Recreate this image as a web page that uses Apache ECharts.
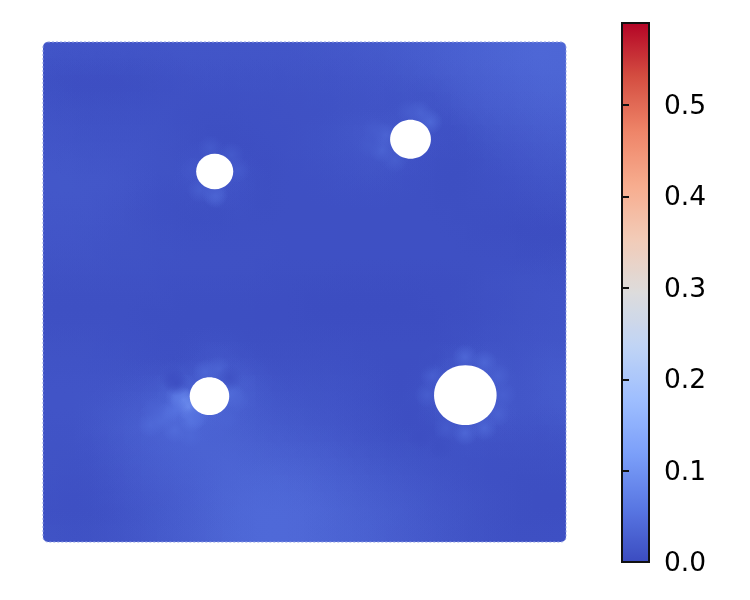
<!DOCTYPE html>
<html>
<head>
<meta charset="utf-8">
<style>html,body{margin:0;padding:0;background:#fff}#main{width:750px;height:600px}</style>
<script src="https://cdn.jsdelivr.net/npm/echarts@6/dist/echarts.min.js"></script>
</head>
<body>
<div id="main"></div>
<script>
// field, in thousandths, top row first
var fieldRows = [
  [14,13,13,13,13,13,13,13,14,14,14,14,14,14,14,14,15,16,17,18,19,20,22,24,26,28,30,32,34,36,37,36],
  [8,8,8,8,8,8,9,10,11,11,11,11,11,11,11,11,12,13,14,15,16,18,20,22,25,27,29,31,33,35,36,36],
  [6,4,3,3,3,4,5,6,7,8,8,8,8,8,8,9,9,10,11,12,13,14,16,18,21,24,26,28,30,32,34,34],
  [8,6,5,5,5,6,6,7,7,6,6,6,7,7,7,7,8,8,9,10,11,10,12,10,14,20,23,25,27,29,31,31],
  [10,9,8,8,8,8,8,8,6,5,5,5,6,6,7,7,7,8,9,10,9,11,14,16,8,15,19,22,24,26,27,28],
  [12,11,10,10,10,10,9,8,7,5,4,4,5,6,6,7,8,10,12,15,17,15,10,10,6,6,12,16,19,21,23,24],
  [13,12,12,11,11,11,10,9,7,6,5,3,3,5,6,7,8,10,12,14,16,16,10,10,6,5,8,12,15,17,19,20],
  [15,15,14,14,13,12,10,9,8,12,10,10,6,3,5,6,7,8,10,11,12,12,8,6,4,4,5,8,11,13,15,16],
  [15,16,15,15,14,13,10,8,8,13,14,13,8,4,5,6,6,7,8,9,9,8,6,5,4,4,5,6,8,10,12,12],
  [15,15,15,14,13,11,8,6,5,7,9,8,6,4,5,5,5,6,6,6,6,5,5,5,4,4,5,5,6,7,8,9],
  [14,14,14,13,11,9,7,6,5,4,4,5,5,5,5,5,5,5,5,5,5,5,5,5,5,4,4,4,4,4,5,5],
  [13,13,12,11,10,9,8,7,6,6,6,6,6,6,6,6,6,6,5,5,5,5,5,5,5,5,4,3,3,2,2,2],
  [11,11,11,10,9,9,8,8,7,7,7,7,7,7,6,6,6,6,6,6,6,6,6,6,6,5,5,5,5,4,4,4],
  [9,9,9,9,8,8,8,7,7,7,7,7,7,6,6,5,5,5,5,5,5,5,5,5,5,5,5,6,6,6,6,7],
  [7,7,7,7,7,7,7,6,6,6,6,6,5,5,4,4,4,4,3,3,3,3,3,3,3,4,5,7,8,9,10,10],
  [5,5,5,5,5,5,5,5,4,4,4,4,4,3,3,3,2,2,2,2,2,2,2,3,3,4,5,6,7,9,10,11],
  [5,5,5,5,5,5,4,4,4,4,4,4,4,3,3,3,2,2,2,2,2,2,2,2,3,3,5,6,8,9,10,11],
  [7,7,7,7,6,6,5,4,4,4,4,4,4,4,4,4,4,3,3,3,3,3,3,3,3,5,6,8,9,10,11,12],
  [9,9,9,8,8,7,6,6,5,7,10,8,5,5,5,5,5,5,5,4,4,4,4,4,4,6,8,10,10,12,13,14],
  [10,10,10,10,9,8,7,5,4,10,15,15,10,7,7,7,7,6,6,5,4,3,3,4,12,14,14,16,12,13,16,18],
  [11,11,11,11,11,12,13,16,22,20,20,20,24,14,10,10,9,9,8,7,5,3,3,6,12,14,14,22,14,14,17,20],
  [11,11,12,13,15,17,20,26,38,32,30,30,26,18,14,13,12,11,10,8,6,4,4,8,12,14,14,22,14,14,17,20],
  [11,11,12,15,18,21,25,30,38,38,34,30,24,20,17,16,14,13,11,9,7,5,3,5,16,16,16,20,15,14,15,18],
  [10,10,11,15,19,23,27,30,32,32,30,29,26,23,20,19,17,15,13,11,8,5,4,3,5,12,14,11,11,10,10,12],
  [9,9,10,13,17,21,25,28,30,31,31,31,29,27,25,24,22,20,17,14,12,10,9,7,7,8,8,7,7,7,7,8],
  [9,8,8,11,15,19,23,26,28,30,32,33,32,31,30,29,27,25,22,19,16,14,12,11,9,8,7,6,5,5,5,6],
  [8,7,7,9,13,17,21,24,26,29,32,34,35,35,35,33,31,28,26,23,20,18,15,13,11,9,7,6,5,4,4,4],
  [7,6,6,8,11,15,18,21,24,28,32,35,37,38,38,37,35,32,29,26,24,21,18,16,13,11,9,7,5,4,3,3],
  [6,5,5,7,10,13,16,20,23,27,31,35,38,40,40,39,37,34,31,29,26,23,20,17,14,12,9,7,5,4,3,3],
  [9,8,8,9,11,14,17,20,24,27,31,35,38,40,40,39,37,34,32,30,27,24,21,18,15,12,10,8,6,5,5,6]
];
// local spots next to the holes (domain 0-100, thousandths)
var spotX = [23.3,20.5,25.2,28.1,26.8,28,25.8,25.4,28.4,29.3,22.3,21.4,31,33.5,36,37.1,34.8,
             32.9,30,32.5,37.2,36,32,28.5,
             74,72,70,65.4,64.8,67.3,63.5,62.5,
             80.7,84.4,87,88,87,84.4,80.7,77.1,74.5,73.5,
             25.5,24.7,35.7,75,73,76,72];
var spotY = [25.4,23.4,22.4,21.4,28.4,26.8,29.2,26.4,24.4,25.2,24.4,26.4,34,34.6,29.4,28.4,24.4,
             69.4,70.4,70.4,74.4,77.4,78.8,74.4,
             84,85.8,86,81.4,78.4,76.4,82.4,79.4,
             37,35.9,33.2,29.4,25.6,22.8,21.8,22.8,33.2,29.4,
             31.8,32.8,32.8,37,36,19,21];
var spotV = [50,40,45,38,100,95,60,55,60,50,42,32,38,34,46,34,32,
             46,26,24,22,20,20,15,
             42,34,24,36,34,26,22,20,
             40,38,30,28,32,38,40,22,28,26,
             0,3,5,3,4,4,3];
var holeX = [32.83,70.27,31.83,80.75];
var holeY = [74.1,80.54,29.16,29.36];
var holeR = [3.55,3.9,3.78,5.98];
var colorbarMax = 0.59;
var colorbarTicks = [0,0.1,0.2,0.3,0.4,0.5];
var coolwarm = ['#3b4cc0','#5977e3','#7b9ff9','#9ebeff','#c0d4f5','#dddcdc','#f2cbb7','#f7ac8e','#ee8468','#d44e41','#b40426'];

var nCols = fieldRows[0].length;
var nRows = fieldRows.length;
var cellData = [];
fieldRows.forEach(function(row, j) {
    row.forEach(function(v, i) {
        cellData.push([(i + 0.5) * 100 / nCols, 100 - (j + 0.5) * 100 / nRows, v / 1000]);
    });
});
var spotData = spotX.map(function(x, i) { return [x, spotY[i], spotV[i] / 1000]; });
var holeData = holeX.map(function(x, i) { return [x, holeY[i], holeR[i]]; });

// soft round dab, so neighbouring values melt into each other
function softDab(radius, alpha) {
    return function(params, api) {
        var c = api.coord([api.value(0), api.value(1)]);
        var col = api.visual('color');
        return {
            type: 'circle',
            shape: { cx: c[0], cy: c[1], r: radius },
            style: {
                fill: new echarts.graphic.RadialGradient(0.5, 0.5, 0.5, [
                    { offset: 0, color: echarts.color.modifyAlpha(col, alpha) },
                    { offset: 1, color: echarts.color.modifyAlpha(col, 0) }
                ])
            }
        };
    };
}

var chart = echarts.init(document.getElementById('main'), null, { renderer: 'canvas' });
chart.setOption({
    animation: false,
    backgroundColor: '#fff',
    textStyle: { fontFamily: 'DejaVu Sans' },
    grid: [
        { left: 43, top: 42, width: 523, height: 500 },
        { left: 622, top: 23, width: 27, height: 539 }
    ],
    xAxis: [
        { type: 'value', gridIndex: 0, min: 0, max: 100, show: false },
        { type: 'value', gridIndex: 1, min: 0, max: 1, show: false }
    ],
    yAxis: [
        { type: 'value', gridIndex: 0, min: 0, max: 100, show: false },
        {
            type: 'value', gridIndex: 1, position: 'right', min: 0, max: colorbarMax, z: 10,
            splitLine: { show: false },
            axisLine: { show: false },
            axisTick: { show: true, length: 7, customValues: colorbarTicks, lineStyle: { color: '#111', width: 2 } },
            axisLabel: {
                margin: 15,
                customValues: colorbarTicks,
                formatter: function(v) { return '{t|' + v.toFixed(1) + '}'; },
                rich: {
                    t: { color: '#000', fontSize: 26.5, fontFamily: 'DejaVu Sans', padding: [4, 0, 0, 0] }
                }
            }
        }
    ],
    visualMap: {
        type: 'continuous', seriesIndex: [0, 1, 2], dimension: 2,
        min: 0, max: colorbarMax, left: 622, top: 23, itemWidth: 27, itemHeight: 539,
        padding: 0, calculable: false, realtime: false, hoverLink: false, z: 1,
        inRange: { color: coolwarm }
    },
    series: [
        {
            type: 'custom', xAxisIndex: 0, yAxisIndex: 0, data: cellData, silent: true, z: 1, clip: true,
            renderItem: function(params, api) {
                var c = api.coord([api.value(0), api.value(1)]);
                var s = api.size([100 / nCols, 100 / nRows]);
                return {
                    type: 'rect',
                    shape: {
                        x: Math.floor(c[0] - s[0] / 2), y: Math.floor(c[1] - s[1] / 2),
                        width: Math.ceil(s[0]) + 1, height: Math.ceil(s[1]) + 1
                    },
                    style: { fill: api.visual('color') }
                };
            }
        },
        {
            type: 'custom', xAxisIndex: 0, yAxisIndex: 0, data: cellData, silent: true, z: 2, clip: true,
            renderItem: softDab(27, 0.6)
        },
        {
            type: 'custom', xAxisIndex: 0, yAxisIndex: 0, data: spotData, silent: true, z: 3, clip: true,
            renderItem: softDab(13, 0.85)
        },
        {
            type: 'custom', xAxisIndex: 0, yAxisIndex: 0, data: holeData, silent: true, z: 4, clip: false,
            renderItem: function(params, api) {
                var c = api.coord([api.value(0), api.value(1)]);
                var s = api.size([api.value(2), api.value(2)]);
                return { type: 'ellipse', shape: { cx: c[0], cy: c[1], rx: s[0], ry: s[1] }, style: { fill: '#fff' } };
            }
        },
        {
            type: 'custom', xAxisIndex: 0, yAxisIndex: 0, data: [[0, 100, 100, 100]], silent: true, z: 5, clip: false,
            renderItem: function(params, api) {
                var c = api.coord([api.value(0), api.value(1)]);
                var s = api.size([api.value(2), api.value(3)]);
                return {
                    type: 'group',
                    children: [
                        { type: 'rect', shape: { x: c[0] - 4, y: c[1] - 4, width: s[0] + 8, height: s[1] + 8, r: 9 },
                          style: { fill: 'none', stroke: '#fff', lineWidth: 8 } },
                        { type: 'rect', shape: { x: c[0], y: c[1], width: s[0], height: s[1], r: 5 },
                          style: { fill: 'none', stroke: '#8f9fe4', lineWidth: 1, lineDash: [2, 2] } }
                    ]
                };
            }
        },
        {
            type: 'custom', xAxisIndex: 1, yAxisIndex: 1, data: [[0, colorbarMax, 1, colorbarMax]], silent: true, z: 10, clip: false,
            renderItem: function(params, api) {
                var c = api.coord([api.value(0), api.value(1)]);
                var s = api.size([api.value(2), api.value(3)]);
                return { type: 'rect', shape: { x: c[0], y: c[1], width: s[0], height: s[1] },
                         style: { fill: 'none', stroke: '#111', lineWidth: 2 } };
            }
        }
    ]
});
</script>
</body>
</html>
